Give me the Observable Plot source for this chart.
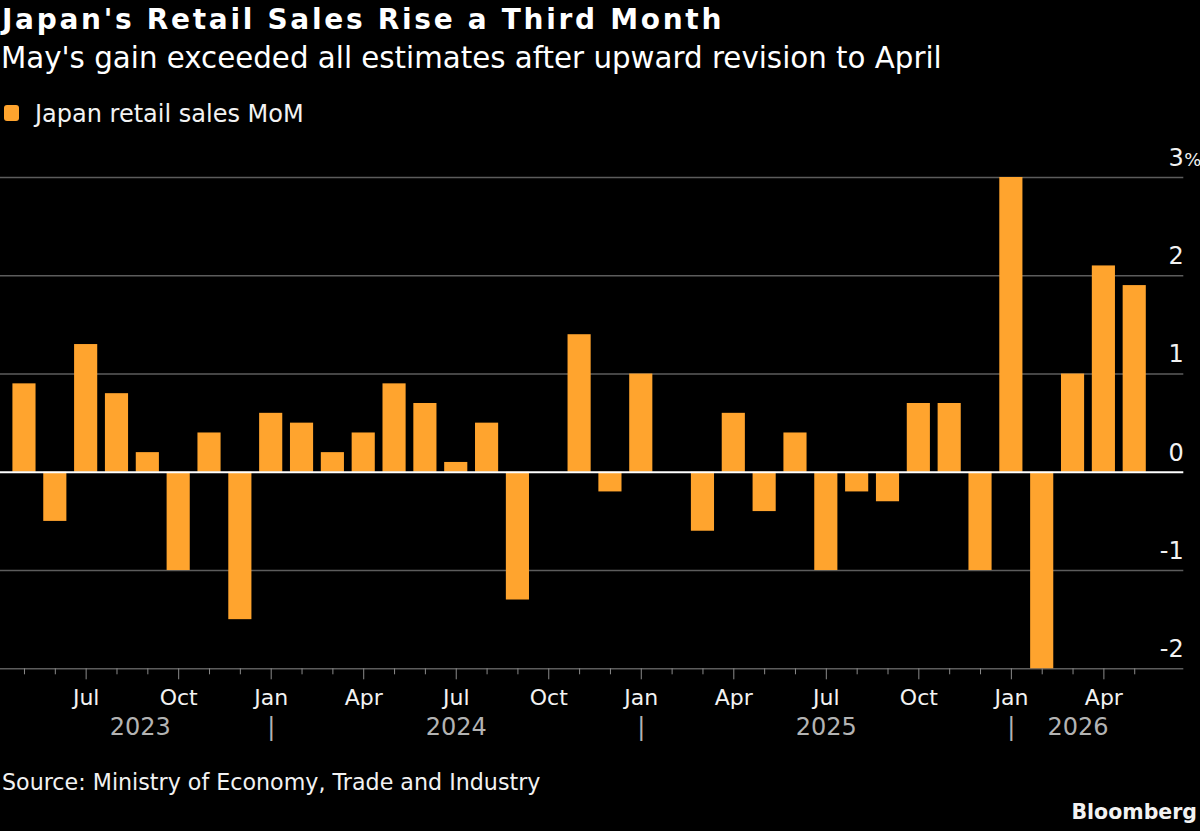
<!DOCTYPE html>
<html>
<head>
<meta charset="utf-8">
<script src="https://cdn.jsdelivr.net/npm/d3@7"></script>
<script src="https://cdn.jsdelivr.net/npm/@observablehq/plot@0.6"></script>
<style>
  html, body { margin: 0; padding: 0; background: #000; }
  body { width: 1200px; height: 831px; position: relative; overflow: hidden; font-family: "DejaVu Sans", sans-serif; color: #fff; }
  .t { position: absolute; white-space: nowrap; line-height: 1; }
  #title { left: 2px; top: 6.3px; font-size: 28px; font-weight: bold; letter-spacing: 2.7px; }
  #subtitle { left: 1px; top: 43.6px; font-size: 29.3px; }
  #swatch { position: absolute; left: 4px; top: 105px; width: 15px; height: 16px; border-radius: 3px; background: #ffa42e; }
  #legend { left: 35px; top: 101.7px; font-size: 24px; color: #f2f2f2; }
  #chart { position: absolute; left: 0; top: 140px; }
  #source { left: 2px; top: 770.8px; font-size: 22.2px; color: #f2f2f2; }
  #logo { right: 3px; top: 802px; font-size: 20.5px; font-weight: bold; color: #f2f2f2; }
</style>
</head>
<body>
<div class="t" id="title">Japan's Retail Sales Rise a Third Month</div>
<div class="t" id="subtitle">May's gain exceeded all estimates after upward revision to April</div>
<div id="swatch"></div>
<div class="t" id="legend">Japan retail sales MoM</div>
<div id="chart"></div>
<div class="t" id="source">Source: Ministry of Economy, Trade and Industry</div>
<div class="t" id="logo">Bloomberg</div>
<script>
// ---- data ----
const months = [
  "2023-05","2023-06","2023-07","2023-08","2023-09","2023-10","2023-11","2023-12",
  "2024-01","2024-02","2024-03","2024-04","2024-05","2024-06","2024-07","2024-08","2024-09","2024-10","2024-11","2024-12",
  "2025-01","2025-02","2025-03","2025-04","2025-05","2025-06","2025-07","2025-08","2025-09","2025-10","2025-11","2025-12",
  "2026-01","2026-02","2026-03","2026-04","2026-05"
];
const values = [
  0.9, -0.5, 1.3, 0.8, 0.2, -1.0, 0.4, -1.5,
  0.6, 0.5, 0.2, 0.4, 0.9, 0.7, 0.1, 0.5, -1.3, 0.0, 1.4, -0.2,
  1.0, 0.0, -0.6, 0.6, -0.4, 0.4, -1.0, -0.2, -0.3, 0.7, 0.7, -1.0,
  3.0, -2.0, 1.0, 2.1, 1.9
];
const monthAbbr = ["Jan","Feb","Mar","Apr","May","Jun","Jul","Aug","Sep","Oct","Nov","Dec"];
const quarterTicks = ["2023-07","2023-10","2024-01","2024-04","2024-07","2024-10","2025-01","2025-04","2025-07","2025-10","2026-01","2026-04"];
const years = ["2023","2024","2025","2026"];
const yearCenters = ["2023-09","2024-07","2025-07","2026-03"];
const yearBreaks = ["2024-01","2025-01","2026-01"];
const yTicks = [-2, -1, 0, 1, 2, 3];
const seriesName = "Japan retail sales MoM";

const ORANGE = "#ffa42e";
const data = months.map((m, i) => ({month: m, value: values[i]}));
const minorTicks = months.filter(m => !quarterTicks.includes(m));

const yearShift = [-7.5, 0, 0, 5];
const yearMarks = years.map((yr, i) =>
  Plot.text([yr], {
    x: () => yearCenters[i], text: d => d,
    frameAnchor: "bottom", lineAnchor: "bottom", dy: 65.7, dx: yearShift[i],
    fontSize: 24, fill: "#b3b3b3"
  })
);

const chart = Plot.plot({
  width: 1200,
  height: 620,
  marginTop: 37,
  marginBottom: 91.7,
  marginLeft: 0,
  marginRight: 16.7,
  style: {background: "transparent", color: "#f2f2f2", fontFamily: "DejaVu Sans", overflow: "visible"},
  x: {type: "band", domain: months, range: [4.7, 1153.5], padding: 0.25, label: null},
  y: {domain: [-2, 3], axis: null, label: null},
  marks: [
    Plot.ruleY(yTicks.filter(d => d !== 0), {stroke: "#5c5c5c", strokeWidth: 1.5}),
    Plot.barY(data, {x: "month", y: "value", fill: ORANGE}),
    Plot.ruleY([0], {stroke: "#ffffff", strokeWidth: 2}),
    Plot.text(yTicks, {
      y: d => d, text: d => (d < 0 ? "-" + Math.abs(d) : String(d)),
      frameAnchor: "right", textAnchor: "end", lineAnchor: "bottom", dy: -11.7,
      fontSize: 24, fill: "#f2f2f2"
    }),
    Plot.text([3], {
      y: d => d, text: () => "%",
      frameAnchor: "right", textAnchor: "start", lineAnchor: "bottom", dy: -11.7, dx: 0.5,
      fontSize: 18, fill: "#f2f2f2"
    }),
    Plot.axisX({ticks: minorTicks, tickSize: 6, tickFormat: () => "", stroke: "#8a8a8a", label: null}),
    Plot.axisX({
      ticks: quarterTicks, tickSize: 11, tickPadding: 9.4,
      tickFormat: m => monthAbbr[+m.slice(5) - 1],
      fontSize: 22, fill: "#f2f2f2", stroke: "#8a8a8a", label: null
    }),
    ...yearMarks,
    Plot.text(yearBreaks, {
      x: d => d, text: () => "|",
      frameAnchor: "bottom", lineAnchor: "bottom", dy: 65.7,
      fontSize: 24, fill: "#b3b3b3"
    })
  ]
});
document.getElementById("chart").appendChild(chart);
</script>
</body>
</html>
